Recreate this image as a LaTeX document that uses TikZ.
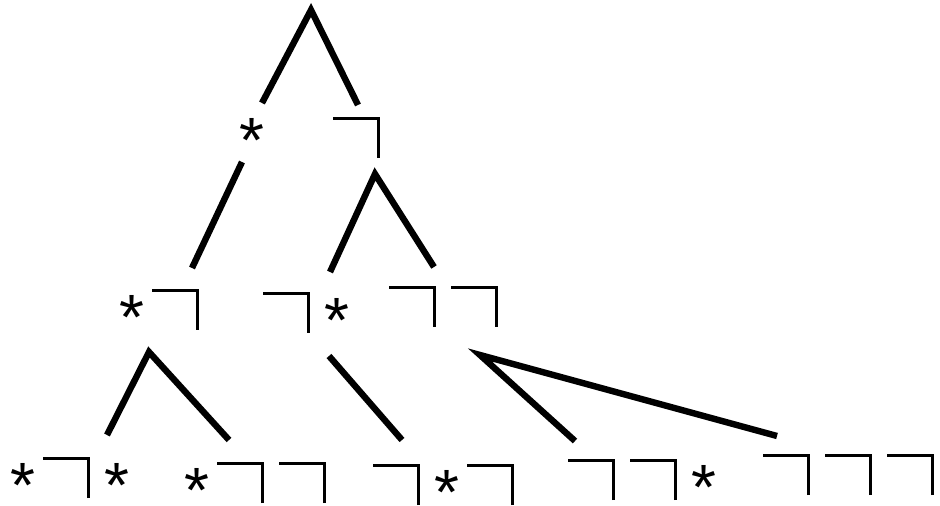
\documentclass[tikz,border=0pt]{standalone}
\usepackage{fontspec}
\setmainfont{Liberation Sans}
\usepackage{tikz}
\usetikzlibrary{positioning}
\definecolor{cink}{HTML}{000000}
% negation sign: short left bearing, bar, long right leg, wider right bearing
\newcommand{\negsign}{\hspace{2pt}\rlap{\rule[19.2pt]{23.5pt}{1.3pt}}\hspace{22.2pt}\rule{1.3pt}{20.5pt}\hspace{5.5pt}}
\newcommand{\astsign}{\raisebox{-4.75pt}{\makebox[16pt]{*}}}
\tikzset{
  lab/.style={
    anchor=base west, inner sep=0pt, outer sep=0pt,
    text=cink, font=\fontsize{32}{38}\selectfont,
  },
  edge/.style={
    line width=3.2pt, color=cink,
    line cap=butt, line join=miter,
  },
}

\begin{document}
\begin{tikzpicture}[x=0.5pt, y=-0.5pt]
\useasboundingbox (0,0) rectangle (940,506);

%% ── LEVEL 1 ───────────────────────────────────────────────
\coordinate (root) at (311,10);
\node[lab] (l) at (236,153.5) {\astsign};
\node[lab] (r) at (329,158)   {\negsign};

%% ── LEVEL 2 ───────────────────────────────────────────────
\node[lab] (ll) at (116,330) {\astsign\negsign};
\node[lab] (rl) at (259,333) {\negsign\astsign};
\node[lab] (rr) at (385,327) {\negsign\negsign};

%% ── LEVEL 3 ───────────────────────────────────────────────
\node[lab] (lll) at (7,498)   {\astsign\negsign\astsign};
\node[lab] (llr) at (181,503) {\astsign\negsign\negsign};
\node[lab] (rlr) at (369,505) {\negsign\astsign\negsign};
\node[lab] (rrl) at (564,500) {\negsign\negsign\astsign};
\node[lab] (rrr) at (759,495) {\negsign\negsign\negsign};

%% ── Edges ─────────────────────────────────────────────────
\draw[edge] ([shift={(26,-50.5)}]l.base west) -- (root)
            -- ([shift={(29,-53)}]r.base west);
\draw[edge] ([shift={(6,8.5)}]l.base west) -- ([shift={(76,-62)}]ll.base west);
\draw[edge] ([shift={(71,-61)}]rl.base west) -- ([shift={(46,16)}]r.base west)
            -- ([shift={(49,-60)}]rr.base west);
\draw[edge] ([shift={(100,-63)}]lll.base west) -- ([shift={(33,22)}]ll.base west)
            -- ([shift={(48,-63)}]llr.base west);
\draw[edge] ([shift={(70,23)}]rl.base west) -- ([shift={(33,-65)}]rlr.base west);
\draw[edge] ([shift={(11,-59)}]rrl.base west) -- ([shift={(95,28)}]rr.base west)
            -- ([shift={(18,-59)}]rrr.base west);

\end{tikzpicture}
\end{document}
